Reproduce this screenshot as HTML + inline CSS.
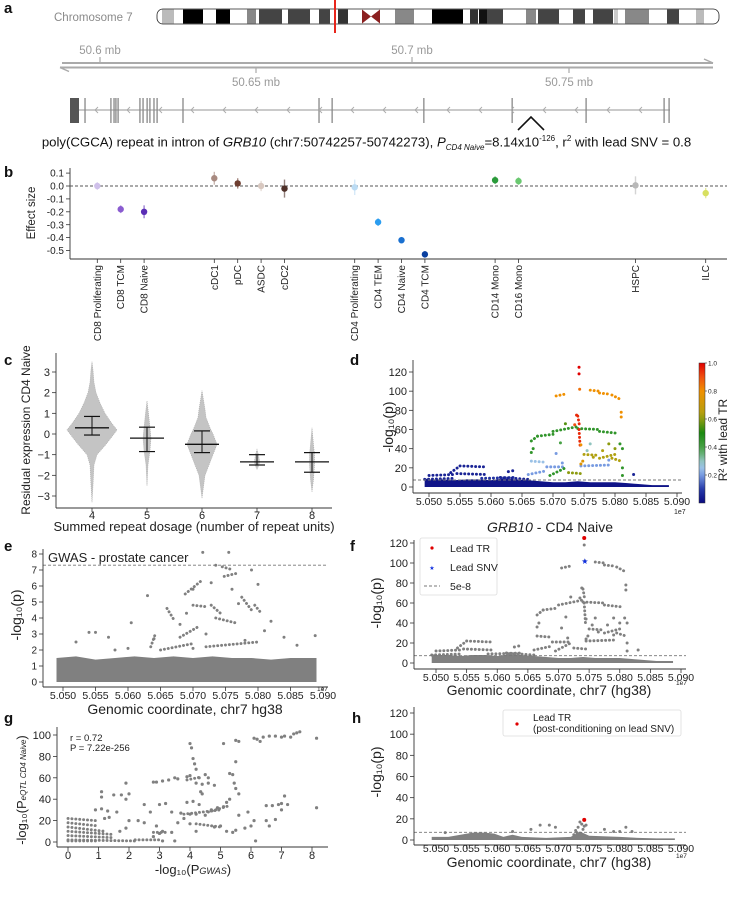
<!DOCTYPE html>
<html><head><meta charset="utf-8"><style>
html,body{margin:0;padding:0;background:#fff;}
#wrap{position:relative;width:733px;height:900px;overflow:hidden;font-family:"Liberation Sans",sans-serif;}
svg{position:absolute;left:0;top:0;}
.cap{position:absolute;left:0;top:134px;width:733px;text-align:center;font-size:13.2px;color:#111;white-space:nowrap;}
.cap sub,.cap sup{font-size:8px;}
.plab{position:absolute;font-weight:bold;font-size:15px;color:#111;}
</style></head><body>
<div id="wrap">
<svg id="fig" width="733" height="900" viewBox="0 0 733 900" font-family="Liberation Sans, sans-serif">
 <g>
  <text x="54" y="21" font-size="11.5" fill="#8a8a8a">Chromosome 7</text>
  <rect x="157" y="9" width="562" height="15" rx="6" fill="#fff" stroke="#222" stroke-width="0.8"/>
  <g>
   <rect x="162" y="9.5" width="12" height="14" fill="#bbb"/>
   <rect x="183" y="9.5" width="20" height="14" fill="#000"/>
   <rect x="216" y="9.5" width="14" height="14" fill="#000"/>
   <rect x="247" y="9.5" width="9" height="14" fill="#888"/>
   <rect x="259" y="9.5" width="23" height="14" fill="#444"/>
   <rect x="288" y="9.5" width="22" height="14" fill="#444"/>
   <rect x="319" y="9.5" width="11" height="14" fill="#444"/>
   <rect x="338" y="9.5" width="10" height="14" fill="#333"/>
   <polygon points="362,9.5 371,16.5 362,23.5" fill="#8b2020"/>
   <polygon points="380,9.5 371,16.5 380,23.5" fill="#8b2020"/>
   <rect x="395" y="9.5" width="19" height="14" fill="#888"/>
   <rect x="432" y="9.5" width="31" height="14" fill="#000"/>
   <rect x="470" y="9.5" width="8" height="14" fill="#333"/>
   <rect x="479" y="9.5" width="8" height="14" fill="#111"/>
   <rect x="487" y="9.5" width="16" height="14" fill="#444"/>
   <rect x="526" y="9.5" width="10" height="14" fill="#888"/>
   <rect x="538" y="9.5" width="21" height="14" fill="#444"/>
   <rect x="573" y="9.5" width="12" height="14" fill="#444"/>
   <rect x="593" y="9.5" width="20" height="14" fill="#444"/>
   <rect x="614" y="9.5" width="4" height="14" fill="#ccc"/>
   <rect x="625" y="9.5" width="24" height="14" fill="#888"/>
   <rect x="667" y="9.5" width="12" height="14" fill="#444"/>
   <rect x="696" y="9.5" width="8" height="14" fill="#bbb"/>
  </g>
  <line x1="335" y1="0" x2="335" y2="33" stroke="#e8261c" stroke-width="2"/>
 </g>
 <g fill="#999" font-size="11.5">
  <line x1="62" y1="63" x2="713" y2="63" stroke="#aaa" stroke-width="2"/>
  <line x1="60" y1="67.5" x2="713" y2="67.5" stroke="#aaa" stroke-width="2"/>
  <polyline points="704,59 713,63" stroke="#aaa" stroke-width="1.5" fill="none"/>
  <polyline points="69,71.5 60,67.5" stroke="#aaa" stroke-width="1.5" fill="none"/>
  <line x1="100" y1="57" x2="100" y2="63" stroke="#aaa" stroke-width="1.2"/>
  <line x1="412" y1="57" x2="412" y2="63" stroke="#aaa" stroke-width="1.2"/>
  <line x1="256" y1="67" x2="256" y2="73" stroke="#aaa" stroke-width="1.2"/>
  <line x1="569" y1="67" x2="569" y2="73" stroke="#aaa" stroke-width="1.2"/>
  <text x="100" y="54" text-anchor="middle">50.6 mb</text>
  <text x="412" y="54" text-anchor="middle">50.7 mb</text>
  <text x="256" y="86" text-anchor="middle">50.65 mb</text>
  <text x="569" y="86" text-anchor="middle">50.75 mb</text>
 </g>
 <g id="gene">
  <line x1="70" y1="110" x2="670" y2="110" stroke="#aaa" stroke-width="1.2"/>
  <rect x="70" y="98" width="9" height="25" fill="#555"/>
 </g>
 <polyline points="518,130 531,117 544,130" fill="none" stroke="#111" stroke-width="1.6"/>
 <g id="pb"></g>
 <g id="pc"></g>
 <g id="pd"></g>
 <g id="pe"></g>
 <g id="pf"></g>
 <g id="pg"></g>
 <g id="ph"></g>
</svg>
<div class="cap">poly(CGCA) repeat in intron of <i>GRB10</i> (chr7:50742257-50742273), <i>P</i><sub><i>CD4 Naive</i></sub>=8.14x10<sup>-126</sup>, r<sup>2</sup> with lead SNV = 0.8</div>
<div class="plab" style="left:4px;top:0px">a</div>
<div class="plab" style="left:4px;top:164px">b</div>
<div class="plab" style="left:4px;top:352px">c</div>
<div class="plab" style="left:350px;top:352px">d</div>
<div class="plab" style="left:4px;top:538px">e</div>
<div class="plab" style="left:350px;top:538px">f</div>
<div class="plab" style="left:4px;top:710px">g</div>
<div class="plab" style="left:352px;top:710px">h</div>
</div>
<script>
// ---------- DATA ----------
const exonPositions = [50.5952,50.6035,50.6045,50.6051,50.6058,50.6128,50.6138,50.6151,50.6160,50.6173,50.6183,50.6266,50.6702,50.6744,50.7038,50.7321,50.7558,50.7808,50.7824];
const bCategories = ["CD8 Proliferating","CD8 TCM","CD8 Naive","cDC1","pDC","ASDC","cDC2","CD4 Proliferating","CD4 TEM","CD4 Naive","CD4 TCM","CD14 Mono","CD16 Mono","HSPC","ILC"];
const bSlots = [0,1,2,5,6,7,8,11,12,13,14,17,18,23,26];
const bEffect = [0.0,-0.18,-0.2,0.06,0.02,0.0,-0.02,-0.01,-0.28,-0.42,-0.53,0.045,0.038,0.005,-0.055];
const bErr = [0.03,0.03,0.05,0.05,0.04,0.04,0.07,0.06,0.03,0.025,0.025,0.03,0.03,0.07,0.04];
const bColors = ["#cfc0ea","#8a5cd0","#5a2db5","#a88a80","#6e3e30","#d8c8c0","#4e3028","#bcdcf4","#2b9df0","#1a70d0","#0a40a0","#2a9a3a","#6ac870","#b8b8b8","#d8e060"];
const bTicks = [0.1,0.0,-0.1,-0.2,-0.3,-0.4,-0.5];
const bTickLabels = ["0.1","0.0","-0.1","-0.2","-0.3","-0.4","-0.5"];

const cGroups = [4,5,6,7,8];
const cMean = [0.3,-0.2,-0.5,-1.35,-1.35];
const cQ1 = [-0.05,-0.85,-0.9,-1.5,-1.85];
const cQ3 = [0.85,0.33,0.15,-1.0,-0.9];
const cProfile4 = [[-3.3,0],[-2.5,1],[-1.5,2],[-1.0,5],[-0.5,14],[0,22],[0.2,25],[0.5,20],[1.0,13],[1.5,8],[2.0,4],[2.5,2],[3.1,1],[3.5,0]];
const cProfile5 = [[-2.5,0],[-1.5,1],[-0.8,3],[-0.2,4],[0.3,3],[1.0,1.5],[1.6,0]];
const cProfile6 = [[-3.1,0],[-2.0,3],[-1.5,7],[-1.0,11],[-0.5,15],[0,11],[0.3,8],[0.8,4],[1.2,3],[2.1,0]];
const cProfile7 = [[-1.7,0],[-1.5,2],[-1.3,2.5],[-1.0,1.5],[-0.75,0]];
const cProfile8 = [[-2.8,0],[-2.2,1.5],[-1.5,2.5],[-1.0,2.5],[-0.5,1.5],[0.3,0]];
const cProfiles = [cProfile4,cProfile5,cProfile6,cProfile7,cProfile8];
const cTicks = [3,2,1,0,-1,-2,-3];
const cTickLabels = ["3","2","1","0","−1","−2","−3"];

const mhXTicks = [5.050,5.055,5.060,5.065,5.070,5.075,5.080,5.085,5.090];
const mhXTickLabels = ["5.050","5.055","5.060","5.065","5.070","5.075","5.080","5.085","5.090"];
const pTicks = [0,20,40,60,80,100,120];
const pTickLabels = ["0","20","40","60","80","100","120"];

const eqtlBand = [[5.0493,9],[5.050,8],[5.052,8],[5.054,7],[5.056,8],[5.058,8],[5.060,7],[5.062,9],[5.064,8],[5.066,7],[5.068,6],[5.070,5],[5.072,5],[5.074,6],[5.076,5],[5.078,5],[5.080,5],[5.082,4],[5.084,3],[5.086,2],[5.0887,2]];
const eqtlStreaks = [[5.0493,8,5.0540,9,0.05],[5.0500,12,5.0540,13,0.05],[5.0535,15,5.0548,21,0.05],[5.0550,22,5.0590,21,0.05],[5.0545,14,5.0595,13,0.05],[5.0585,9,5.0640,10,0.08],[5.0615,10,5.0660,8,0.05],[5.0660,13,5.0690,17,0.2],[5.0665,27,5.0685,26,0.25],[5.0690,21,5.0720,21,0.2],[5.0745,22,5.0795,23,0.2],[5.0665,48,5.0675,53,0.45],[5.0675,53,5.0700,55,0.45],[5.0700,58,5.0740,63,0.45],[5.0740,61,5.0775,60,0.45],[5.0775,58,5.0805,56,0.45],[5.0695,12,5.0720,20,0.45],[5.0705,95,5.0720,97,0.8],[5.0760,101,5.0775,100,0.8],[5.0775,98,5.0790,97,0.8],[5.0795,96,5.0810,91,0.8],[5.0750,34,5.0775,33,0.63],[5.0775,30,5.0800,34,0.63],[5.0795,30,5.0810,27,0.63],[5.0725,15,5.0745,14,0.6],[5.0740,74,5.0743,63,0.95],[5.0742,60,5.0744,40,0.95]];
const eqtlPoints = [[5.0742,125,1],[5.0742,118,1],[5.0743,102,0.85],[5.0738,75,0.95],[5.0735,65,0.9],[5.0745,44,0.8],[5.0745,24,0.75],[5.0748,27,0.75],[5.0810,78,0.8],[5.0810,73,0.8],[5.0808,45,0.45],[5.0812,40,0.45],[5.0800,40,0.6],[5.0790,45,0.6],[5.0712,46,0.4],[5.0705,35,0.2],[5.0720,66,0.55],[5.0812,20,0.45],[5.0812,12,0.45],[5.0830,13,0.05],[5.0635,17,0.05],[5.0628,16,0.05],[5.0715,25,0.2],[5.0760,45,0.3],[5.0755,38,0.3],[5.0665,36,0.45],[5.0668,40,0.45],[5.0790,28,0.2],[5.0780,38,0.63],[5.0765,31,0.63]];
const leadTR = [5.0742,125];
const leadSNV = [5.0743,102];
const sigLine = 7.3;
const cbarTicks = [0.2,0.4,0.6,0.8,1.0];
const cbarTickLabels = ["0.2","0.4","0.6","0.8","1.0"];

const gwasBand = [[5.0490,1.5],[5.052,1.6],[5.055,1.4],[5.058,1.5],[5.061,1.6],[5.064,1.5],[5.067,1.6],[5.070,1.5],[5.073,1.6],[5.076,1.5],[5.079,1.5],[5.082,1.4],[5.085,1.5],[5.0890,1.5]];
const gwasStreaks = [[5.0635,2.2,5.0642,3.0],[5.0660,4.6,5.0672,3.8],[5.0688,5.5,5.0715,6.4],[5.0700,4.8,5.0722,4.7],[5.0728,4.8,5.0745,4.2],[5.0735,4.0,5.0765,3.7],[5.0745,7.2,5.0762,7.0],[5.0748,6.6,5.0768,6.8],[5.0775,5.3,5.0790,4.5],[5.0795,4.8,5.0805,4.3],[5.0680,2.8,5.0710,3.5],[5.0650,2.0,5.0700,2.4],[5.0720,2.2,5.0800,2.5]];
const gwasPoints = [[5.0715,8.1],[5.0755,8.1],[5.0735,7.3],[5.0790,7.0],[5.0800,6.1],[5.0605,3.7],[5.0630,5.4],[5.0520,2.5],[5.0540,3.1],[5.0550,3.1],[5.0570,2.8],[5.0840,2.8],[5.0888,2.9],[5.0820,3.8],[5.0700,2.1],[5.0780,2.6],[5.0690,4.3],[5.0760,5.8],[5.0720,3.0],[5.0680,3.6],[5.0770,4.9],[5.0640,2.7],[5.0600,2.1],[5.0810,3.2],[5.0860,2.3],[5.0580,2.0],[5.0700,5.8],[5.0728,6.2]];
const gwasYTicks = [0,1,2,3,4,5,6,7,8];
const gwasYTickLabels = ["0","1","2","3","4","5","6","7","8"];
const gwasSig = 7.3;

const gPoints = [[1.1,47],[1.1,42],[1.5,44],[1.75,44],[1.9,55],[2.0,45],[1.9,40],[0.9,30],[1.1,31],[1.3,29],[1.6,28],[1.2,22],[1.35,23],[2.5,35],[2.7,28],[2.8,56],[2.9,56],[3.1,57],[3.3,58],[3.5,60],[3.6,59],[3.0,35],[3.2,36],[3.4,28],[4.0,92],[4.05,88],[4.1,78],[4.15,73],[4.2,68],[3.9,61],[4.0,62],[4.3,60],[4.5,63],[4.6,60],[4.2,55],[4.4,54],[4.6,55],[4.8,53],[4.35,47],[4.4,45],[4.1,38],[4.3,35],[5.1,92],[5.5,95],[5.6,94],[5.3,64],[5.4,63],[5.5,75],[5.45,55],[5.5,50],[5.6,45],[5.3,40],[5.2,37],[6.1,97],[6.2,96],[6.3,94],[6.4,98],[6.6,99],[6.8,99],[7.0,98],[7.1,99],[7.3,98],[7.4,101],[7.5,102],[7.6,103],[8.15,97],[8.15,32],[6.5,34],[6.7,34],[6.9,35],[7.0,36],[7.1,43],[7.2,35],[7.0,30],[6.8,21],[6.5,20],[6.1,20],[6.0,15],[5.8,13],[5.6,25],[5.9,28],[6.15,1],[6.6,15],[4.8,14],[5.0,15],[5.2,10],[5.4,9],[5.5,11],[4.2,10],[4.0,17],[3.8,22],[3.6,18],[3.4,9],[3.0,8],[3.5,1],[3.1,1],[2.8,5],[2.0,20],[2.3,20],[2.5,18],[2.9,15],[3.1,10],[1.7,10],[1.9,13],[4.7,30],[4.9,32],[5.1,33],[4.5,25],[4.0,26],[4.2,26],[3.7,27],[3.9,37]];
const gStreaks = [[0,22,0.9,20],[0,18,1.0,15],[0,14,1.2,10],[0,10,1.5,7],[0,6,1.5,4],[0,2,2.2,1],[2.2,2,3.0,2],[0,1,1,1],[2.8,9,3.2,9],[3.8,26,5.0,30],[4.2,17,5.0,14],[4.6,28,5.3,34],[3.9,58,4.4,61]];
const gXTicks = [0,1,2,3,4,5,6,7,8];
const gXTickLabels = ["0","1","2","3","4","5","6","7","8"];
const gYTicks = [0,20,40,60,80,100];
const gYTickLabels = ["0","20","40","60","80","100"];

const hBand = [[5.0493,3],[5.052,3],[5.054,5],[5.056,7],[5.058,7],[5.0595,6],[5.061,3],[5.0625,5],[5.064,3],[5.068,2],[5.072,3],[5.0735,8],[5.075,4],[5.080,3],[5.083,2],[5.086,1.5],[5.0890,1.5]];
const hPoints = [[5.0735,17],[5.0738,15],[5.0732,12],[5.0740,10],[5.0728,9],[5.0670,14],[5.0685,14],[5.0695,12],[5.0655,10],[5.0810,12],[5.0775,10],[5.0790,8],[5.0800,8],[5.0820,8],[5.0625,8],[5.0515,7],[5.0745,14],[5.0742,13],[5.0730,7],[5.0725,5]];
const hLeadTR = [5.0742,19];

// ---------- HELPERS ----------
const NS='http://www.w3.org/2000/svg';
function mk(parent, tag, attrs, name){
  const el=document.createElementNS(NS,tag);
  for(const k in attrs) el.setAttribute(k,attrs[k]);
  
  
  parent.appendChild(el);
  return el;
}
function txt(parent, x, y, s, size, name, extra){
  const a=Object.assign({x:x,y:y,'font-size':size,fill:'#222'},extra||{});
  const el=mk(parent,'text',a,name);
  el.textContent=s;
  return el;
}
function lin(d0,d1,r0,r1){return v=>r0+(v-d0)*(r1-r0)/(d1-d0);}
function spines(g,x0,y0,x1,y1){
  mk(g,'line',{x1:x0,y1:y0,x2:x0,y2:y1,stroke:'#333','stroke-width':0.9},'y-axis-line');
  mk(g,'line',{x1:x0,y1:y1,x2:x1,y2:y1,stroke:'#333','stroke-width':0.9},'x-axis-line');
}
function yTicks(g,vals,labels,ys,x0,size){
  vals.forEach((v,i)=>{
    const y=ys(v);
    mk(g,'line',{x1:x0-4,y1:y,x2:x0,y2:y,stroke:'#333','stroke-width':0.8},'y-tick');
    txt(g,x0-6,y+size*0.36,labels[i],size,'y-tick-label',{'text-anchor':'end'});
  });
}
function xTicks(g,vals,labels,xs,y1,size,ly){
  vals.forEach((v,i)=>{
    const x=xs(v);
    mk(g,'line',{x1:x,y1:y1,x2:x,y2:y1+4,stroke:'#333','stroke-width':0.8},'x-tick');
    txt(g,x,ly,labels[i],size,'x-tick-label',{'text-anchor':'middle'});
  });
}
function rotLabel(g,x,y,s,size,name){
  return txt(g,x,y,s,size,name,{'text-anchor':'middle',transform:'rotate(-90 '+x+' '+y+')'});
}
const cmapStops=[[0,[10,10,128]],[0.1,[40,60,170]],[0.2,[120,155,225]],[0.27,[168,208,232]],[0.38,[80,165,80]],[0.5,[26,138,16]],[0.63,[176,160,16]],[0.8,[240,144,0]],[0.9,[240,80,16]],[1,[224,0,0]]];
function cmap(t){
  for(let i=1;i<cmapStops.length;i++){
    if(t<=cmapStops[i][0]){
      const a=cmapStops[i-1],b=cmapStops[i],f=(t-a[0])/(b[0]-a[0]);
      const c=a[1].map((v,j)=>Math.round(v+(b[1][j]-v)*f));
      return 'rgb('+c.join(',')+')';
    }
  }
  return 'rgb(224,0,0)';
}
function band(g,data,xs,ys,fill,name){
  let pts=xs(data[0][0])+','+ys(0)+' ';
  data.forEach(d=>{pts+=xs(d[0])+','+ys(d[1])+' ';});
  pts+=xs(data[data.length-1][0])+','+ys(0);
  mk(g,'polygon',{points:pts,fill:fill},name);
}
function streak(g,s,xs,ys,color,name){
  mk(g,'line',{x1:xs(s[0]),y1:ys(s[1]),x2:xs(s[2]),y2:ys(s[3]),stroke:color,'stroke-width':2.9,'stroke-linecap':'round','stroke-dasharray':'0.1 3.8'},name);
}
function dot(g,x,y,color,r,name){ mk(g,'circle',{cx:x,cy:y,r:r,fill:color},name); }

// ---------- PANEL A gene ----------
(function(){
  const g=document.getElementById('gene');
  const xs=lin(50.6,50.7,100,412);
  exonPositions.forEach(p=>{
    mk(g,'line',{x1:xs(p),y1:98,x2:xs(p),y2:123,stroke:'#888','stroke-width':1.3},'exon');
  });
  for(let x=95;x<660;x+=32){
    mk(g,'polyline',{points:(x+3)+',107 '+x+',110 '+(x+3)+',113',fill:'none',stroke:'#aaa','stroke-width':0.9},'strand-arrow');
  }
})();

// ---------- PANEL B ----------
(function(){
  const g=document.getElementById('pb');
  const xs=k=>97.3+23.4*k, ys=lin(0,-0.5,186,250.5);
  spines(g,70,168,727,259);
  yTicks(g,bTicks,bTickLabels,ys,70,10);
  mk(g,'line',{x1:70,y1:ys(0),x2:727,y2:ys(0),stroke:'#555','stroke-width':0.9,'stroke-dasharray':'3 2'},'zero-line');
  rotLabel(g,35,213,'Effect size',11.5,'y-axis-title');
  bCategories.forEach((c,i)=>{
    const x=xs(bSlots[i]);
    mk(g,'line',{x1:x,y1:259,x2:x,y2:263,stroke:'#333','stroke-width':0.8},'x-tick');
    mk(g,'line',{x1:x,y1:ys(bEffect[i]+bErr[i]),x2:x,y2:ys(bEffect[i]-bErr[i]),stroke:bColors[i],'stroke-width':1.4,opacity:0.6},'error-bar');
    dot(g,x,ys(bEffect[i]),bColors[i],3.2,'effect-point');
    txt(g,x+3.5,265,c,10,'category-label',{'text-anchor':'end',transform:'rotate(-90 '+(x+3.5)+' 265)'});
  });
})();

// ---------- PANEL C ----------
(function(){
  const g=document.getElementById('pc');
  const xs=lin(4,8,92,312), ys=lin(0,3,434,372);
  spines(g,56,353,332,508);
  yTicks(g,cTicks,cTickLabels,ys,56,11);
  xTicks(g,cGroups,cGroups.map(String),xs,508,11,519);
  txt(g,194,531,'Summed repeat dosage (number of repeat units)',13,'x-axis-title',{'text-anchor':'middle'});
  rotLabel(g,30,430,'Residual expression CD4 Naive',12,'y-axis-title');
  cGroups.forEach((grp,i)=>{
    const cx=xs(grp), prof=cProfiles[i];
    let pts='';
    prof.forEach(p=>{pts+=(cx+p[1])+','+ys(p[0])+' ';});
    for(let j=prof.length-1;j>=0;j--){pts+=(cx-prof[j][1])+','+ys(prof[j][0])+' ';}
    mk(g,'polygon',{points:pts,fill:'#c4c4c4',stroke:'#aaa','stroke-width':0.6,'stroke-dasharray':'1 1'},'swarm-'+grp);
    mk(g,'line',{x1:cx,y1:ys(cQ3[i]),x2:cx,y2:ys(cQ1[i]),stroke:'#111','stroke-width':1},'iqr-line');
    mk(g,'line',{x1:cx-17,y1:ys(cMean[i]),x2:cx+17,y2:ys(cMean[i]),stroke:'#111','stroke-width':1.3},'mean-line');
    mk(g,'line',{x1:cx-8,y1:ys(cQ3[i]),x2:cx+8,y2:ys(cQ3[i]),stroke:'#111','stroke-width':1.2},'q3-cap');
    mk(g,'line',{x1:cx-8,y1:ys(cQ1[i]),x2:cx+8,y2:ys(cQ1[i]),stroke:'#111','stroke-width':1.2},'q1-cap');
  });
})();

function eqtlPanel(g,x0,x1,ys,colored){
  const xs=lin(5.050,5.090,x0,x1);
  band(g,eqtlBand,xs,ys,colored?cmap(0.02):'#808080','dense-band');
  eqtlStreaks.forEach(s=>streak(g,s,xs,ys,colored?cmap(s[4]):'#808080','ld-block'));
  eqtlPoints.forEach(p=>dot(g,xs(p[0]),ys(p[1]),colored?cmap(p[2]):'#808080',1.5,'variant-point'));
  return xs;
}

// ---------- PANEL D ----------
(function(){
  const g=document.getElementById('pd');
  const ys=lin(0,120,487,372);
  const xs=eqtlPanel(g,429,677,ys,true);
  mk(g,'line',{x1:413,y1:ys(sigLine),x2:682,y2:ys(sigLine),stroke:'#777','stroke-width':0.9,'stroke-dasharray':'3 2'},'significance-line');
  spines(g,413,360,682,493);
  yTicks(g,pTicks,pTickLabels,ys,413,11);
  xTicks(g,mhXTicks,mhXTickLabels,xs,493,10.5,505);
  txt(g,674,514,'1e7',7,'x-offset-label');
  rotLabel(g,393,427,'-log₁₀(p)',14,'y-axis-title');
  const defs=mk(g,'defs',{},'colorbar-defs');
  const lg=mk(defs,'linearGradient',{id:'cb',x1:0,y1:1,x2:0,y2:0},'colorbar-gradient');
  for(let i=0;i<=20;i++){ mk(lg,'stop',{offset:(i/20),'stop-color':cmap(i/20)},'gradient-stop'); }
  mk(g,'rect',{x:699,y:363,width:6,height:140,fill:'url(#cb)',stroke:'#333','stroke-width':0.5},'colorbar');
  const cs=lin(0,1,503,363);
  cbarTicks.forEach((t,i)=>{
    mk(g,'line',{x1:705,y1:cs(t),x2:707,y2:cs(t),stroke:'#333','stroke-width':0.6},'colorbar-tick');
    txt(g,708,cs(t)+2.5,cbarTickLabels[i],6.5,'colorbar-tick-label');
  });
  rotLabel(g,727,440,'R² with lead TR',12,'colorbar-title');
  const t=txt(g,550,532,'',14,'chart-title',{'text-anchor':'middle'});
  const ts=document.createElementNS(NS,'tspan'); ts.setAttribute('font-style','italic'); ts.textContent='GRB10';
  t.appendChild(ts); t.appendChild(document.createTextNode(' - CD4 Naive'));
})();

// ---------- PANEL E ----------
(function(){
  const g=document.getElementById('pe');
  const xs=lin(5.050,5.090,63,323), ys=lin(0,1,682,666);
  band(g,gwasBand,xs,ys,'#808080','dense-band');
  gwasStreaks.forEach(s=>streak(g,s,xs,ys,'#808080','ld-block'));
  gwasPoints.forEach(p=>dot(g,xs(p[0]),ys(p[1]),'#808080',1.5,'variant-point'));
  mk(g,'line',{x1:43,y1:ys(gwasSig),x2:328,y2:ys(gwasSig),stroke:'#777','stroke-width':0.9,'stroke-dasharray':'3 2'},'significance-line');
  spines(g,43,549,328,687);
  yTicks(g,gwasYTicks,gwasYTickLabels,ys,43,10);
  xTicks(g,mhXTicks,mhXTickLabels,xs,687,10.5,699);
  txt(g,185,714,'Genomic coordinate, chr7 hg38',14,'x-axis-title',{'text-anchor':'middle'});
  txt(g,317,691,'1e7',6.5,'x-offset-label');
  txt(g,48,562,'GWAS - prostate cancer',13,'gwas-title');
  rotLabel(g,21,615,'-log₁₀(p)',14,'y-axis-title');
})();

// ---------- PANEL F ----------
(function(){
  const g=document.getElementById('pf');
  const ys=lin(0,120,663,543);
  const xs=eqtlPanel(g,436,681,ys,false);
  mk(g,'line',{x1:414,y1:ys(sigLine),x2:686,y2:ys(sigLine),stroke:'#777','stroke-width':0.9,'stroke-dasharray':'3 2'},'significance-line');
  dot(g,xs(leadTR[0]),ys(leadTR[1]),'#e00000',2,'lead-tr-point');
  txt(g,xs(leadSNV[0]),ys(leadSNV[1])+3,'★',8,'lead-snv-point',{'text-anchor':'middle',fill:'#1030e0'});
  spines(g,414,540,686,669);
  yTicks(g,pTicks,pTickLabels,ys,414,11);
  xTicks(g,mhXTicks,mhXTickLabels,xs,669,10.5,681);
  txt(g,549,695,'Genomic coordinate, chr7 (hg38)',14,'x-axis-title',{'text-anchor':'middle'});
  txt(g,676,685,'1e7',6.5,'x-offset-label');
  rotLabel(g,381,603,'-log₁₀(p)',14,'y-axis-title');
  const lg=mk(g,'g',{},'legend');
  mk(lg,'rect',{x:420,y:538,width:77,height:57,fill:'#fff',stroke:'#ddd','stroke-width':0.8,rx:2},'legend-box');
  dot(lg,432,548,'#e00000',1.6,'legend-lead-tr-marker');
  txt(lg,450,552,'Lead TR',10.5,'legend-lead-tr-label');
  txt(lg,432,570,'★',6,'legend-lead-snv-marker',{'text-anchor':'middle',fill:'#1030e0'});
  txt(lg,450,571,'Lead SNV',10.5,'legend-lead-snv-label');
  mk(lg,'line',{x1:424,y1:586,x2:440,y2:586,stroke:'#777','stroke-width':0.9,'stroke-dasharray':'3 2'},'legend-threshold-marker');
  txt(lg,450,590,'5e-8',10.5,'legend-threshold-label');
})();

// ---------- PANEL G ----------
(function(){
  const g=document.getElementById('pg');
  const xs=lin(0,8,68,312), ys=lin(0,100,842,735);
  gStreaks.forEach(s=>streak(g,s,xs,ys,'#808080','point-cluster'));
  gPoints.forEach(p=>dot(g,xs(p[0]),ys(p[1]),'#808080',1.6,'variant-point'));
  spines(g,57,727,328,847);
  yTicks(g,gYTicks,gYTickLabels,ys,57,11);
  xTicks(g,gXTicks,gXTickLabels,xs,847,11,859);
  txt(g,70,741,'r = 0.72',9.5,'correlation-r');
  txt(g,70,751,'P = 7.22e-256',9.5,'correlation-p');
  const xl=txt(g,193,874,'-log₁₀(P',13,'x-axis-title',{'text-anchor':'middle'});
  const s1=document.createElementNS(NS,'tspan'); s1.setAttribute('font-size','9'); s1.setAttribute('font-style','italic'); s1.textContent='GWAS';
  xl.appendChild(s1); xl.appendChild(document.createTextNode(')'));
  const yl=rotLabel(g,26,790,'-log₁₀(P',13,'y-axis-title');
  const s2=document.createElementNS(NS,'tspan'); s2.setAttribute('font-size','8'); s2.setAttribute('font-style','italic'); s2.textContent='eQTL CD4 Naive';
  yl.appendChild(s2); yl.appendChild(document.createTextNode(')'));
})();

// ---------- PANEL H ----------
(function(){
  const g=document.getElementById('ph');
  const xs=lin(5.050,5.090,436,681), ys=lin(0,120,840,713);
  band(g,hBand,xs,ys,'#808080','dense-band');
  hPoints.forEach(p=>dot(g,xs(p[0]),ys(p[1]),'#808080',1.5,'variant-point'));
  mk(g,'line',{x1:414,y1:ys(sigLine),x2:686,y2:ys(sigLine),stroke:'#777','stroke-width':0.9,'stroke-dasharray':'3 2'},'significance-line');
  dot(g,xs(hLeadTR[0]),ys(hLeadTR[1]),'#e00000',2,'lead-tr-point');
  spines(g,414,707,686,845);
  yTicks(g,pTicks,pTickLabels,ys,414,11);
  xTicks(g,mhXTicks,mhXTickLabels,xs,845,10.5,852);
  txt(g,549,867,'Genomic coordinate, chr7 (hg38)',14,'x-axis-title',{'text-anchor':'middle'});
  txt(g,676,858,'1e7',6.5,'x-offset-label');
  rotLabel(g,381,772,'-log₁₀(p)',14,'y-axis-title');
  const lg=mk(g,'g',{},'legend');
  mk(lg,'rect',{x:503,y:710,width:178,height:26,fill:'#fff',stroke:'#ddd','stroke-width':0.8,rx:2},'legend-box');
  dot(lg,517,724,'#e00000',1.6,'legend-lead-tr-marker');
  txt(lg,533,721,'Lead TR',10,'legend-label-line1');
  txt(lg,533,732,'(post-conditioning on lead SNV)',10,'legend-label-line2');
})();
</script>
</body></html>
